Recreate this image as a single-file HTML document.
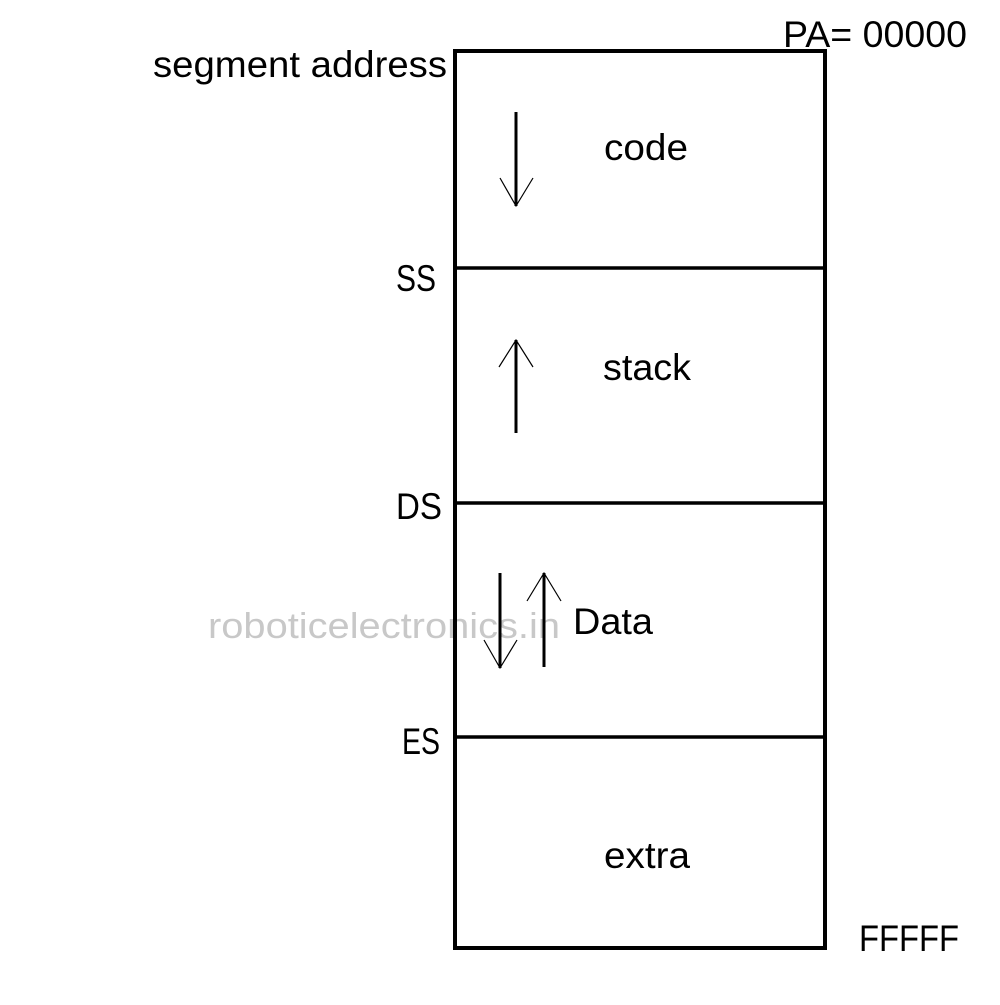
<!DOCTYPE html>
<html><head><meta charset="utf-8"><style>html,body{margin:0;padding:0;background:#fff}</style></head>
<body>
<svg width="1000" height="1000" viewBox="0 0 1000 1000" xmlns="http://www.w3.org/2000/svg" font-family="Liberation Sans, sans-serif">
<rect width="1000" height="1000" fill="#fff"/>
<text x="208" y="638" font-size="36" fill="#c8c8c8" textLength="352" lengthAdjust="spacingAndGlyphs">roboticelectronics.in</text>
<rect x="455" y="51" width="370" height="897" fill="none" stroke="#000" stroke-width="4"/>
<line x1="453" y1="268" x2="827" y2="268" stroke="#000" stroke-width="3.5"/>
<line x1="453" y1="503" x2="827" y2="503" stroke="#000" stroke-width="3.5"/>
<line x1="453" y1="737" x2="827" y2="737" stroke="#000" stroke-width="3.5"/>
<g stroke="#000" fill="none">
<line x1="516" y1="112" x2="516" y2="206" stroke-width="3"/>
<polyline points="500,178 516,206 533,178" stroke-width="1.2"/>
<line x1="516" y1="433" x2="516" y2="340" stroke-width="3"/>
<polyline points="499,367 516,340 533,367" stroke-width="1.2"/>
<line x1="500" y1="573" x2="500" y2="668" stroke-width="3"/>
<polyline points="484,640 500,668 517,640" stroke-width="1.2"/>
<line x1="544" y1="667" x2="544" y2="573" stroke-width="3"/>
<polyline points="527,601 544,573 561,601" stroke-width="1.2"/>
</g>
<g font-size="37" fill="#000" lengthAdjust="spacingAndGlyphs">
<text x="153" y="77" textLength="294" lengthAdjust="spacingAndGlyphs">segment address</text>
<text x="783" y="47" textLength="184" lengthAdjust="spacingAndGlyphs">PA= 00000</text>
<text x="604" y="160" textLength="84" lengthAdjust="spacingAndGlyphs">code</text>
<text x="603" y="380" textLength="88" lengthAdjust="spacingAndGlyphs">stack</text>
<text x="573" y="634" textLength="80" lengthAdjust="spacingAndGlyphs">Data</text>
<text x="604" y="868" textLength="86" lengthAdjust="spacingAndGlyphs">extra</text>
<text x="396" y="291" textLength="40" lengthAdjust="spacingAndGlyphs">SS</text>
<text x="396" y="519" textLength="46" lengthAdjust="spacingAndGlyphs">DS</text>
<text x="402" y="754" textLength="38" lengthAdjust="spacingAndGlyphs">ES</text>
<text x="859" y="951" textLength="100" lengthAdjust="spacingAndGlyphs">FFFFF</text>
</g>
</svg>
</body></html>
